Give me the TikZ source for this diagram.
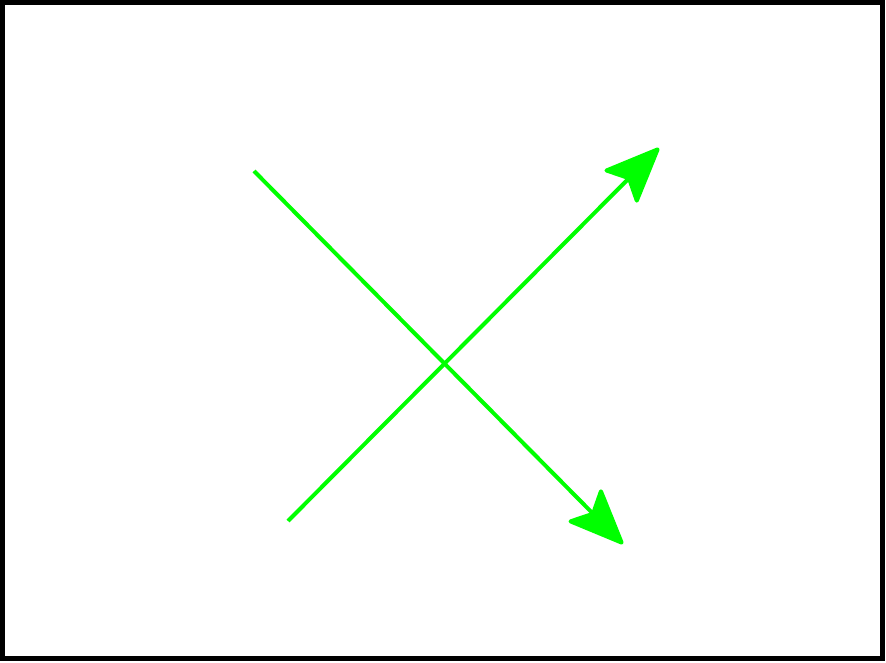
\documentclass[tikz,border=0pt]{standalone}
\usetikzlibrary{arrows.meta}
\definecolor{brightgreen}{RGB}{0,255,0}
\tikzset{
  frame/.style={draw=black, line width=5pt},
  greenarrow/.style={draw=brightgreen, line width=4pt,
    -{Stealth[length=60pt,width=50pt,inset=12pt,round]}}
}
\begin{document}
\begin{tikzpicture}[x=1pt,y=-1pt]
\useasboundingbox (0,0) rectangle (886,663);
\draw[frame] (2.5,2.5) rectangle (882,658);
\coordinate (a1) at (254,171);
\coordinate (a2) at (623,544);
\coordinate (b1) at (288,521);
\coordinate (b2) at (659,148);
\draw[greenarrow] (a1) -- (a2);
\draw[greenarrow] (b1) -- (b2);
\end{tikzpicture}
\end{document}
